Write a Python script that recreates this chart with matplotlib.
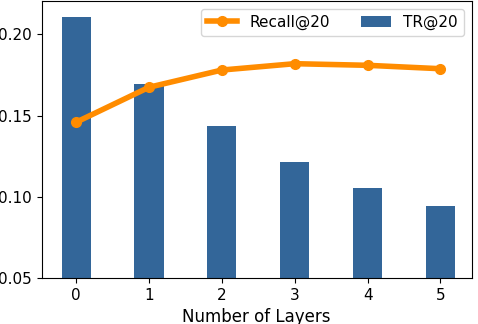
import numpy as np
import matplotlib.pyplot as plt

layers = [0, 1, 2, 3, 4, 5]
tr20 = [0.2107, 0.1696, 0.1433, 0.1212, 0.1052, 0.0942]
recall20 = [0.1459, 0.1674, 0.1780, 0.1819, 0.1809, 0.1788]

fig = plt.figure(figsize=(4.78, 3.24), dpi=100)
ax = fig.add_axes([0.087, 0.142, 0.900, 0.855])

ax.bar(layers, tr20, width=0.4, color="#336699", label="TR@20")
ax.plot(layers, recall20, color="darkorange", linewidth=4, marker="o",
        markersize=7, label="Recall@20")

ax.set_ylim(0.05, 0.2205)
ax.set_xlim(-0.475, 5.43)
ax.set_xticks(layers)
ax.set_yticks([0.05, 0.10, 0.15, 0.20])
ax.tick_params(labelsize=11)
ax.set_xlabel("Number of Layers", fontsize=12)

# line first, then bars
handles, labels = ax.get_legend_handles_labels()
order = [labels.index("Recall@20"), labels.index("TR@20")]
ax.legend([handles[i] for i in order], [labels[i] for i in order],
          ncol=2, loc="upper right", fontsize=11)

fig.savefig("out.png", dpi=100)
